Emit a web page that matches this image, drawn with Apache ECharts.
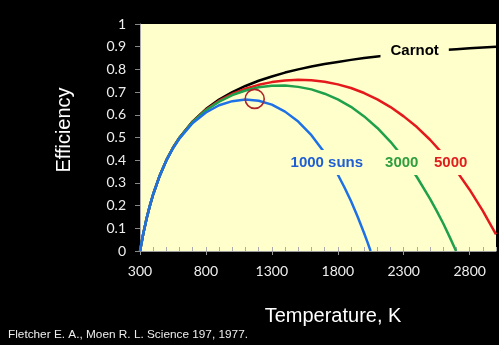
<!DOCTYPE html>
<html><head><meta charset="utf-8">
<script src="https://cdn.jsdelivr.net/npm/echarts@6/dist/echarts.min.js"></script>
<style>html,body{margin:0;padding:0;background:#000;}#c{width:499px;height:345px;}</style>
</head><body><div id="c"></div>
<script>
// Temperatures (K) and efficiencies
var carnotT = [300,325,350,375,400,450,500,550,600,700,800,900,1000,1100,1200,1300,1400,1500,1600,1700,1800,1900,2000,2100,2200,2300,2400,2500,2600,2700,2800,2900,3000];
var carnotE = [0,0.077,0.143,0.2,0.25,0.333,0.4,0.455,0.5,0.571,0.625,0.667,0.7,0.727,0.75,0.769,0.786,0.8,0.8125,0.824,0.833,0.842,0.85,0.857,0.864,0.87,0.875,0.88,0.885,0.889,0.893,0.897,0.9];

var sun1000T = [300,325,350,375,400,450,500,550,600,700,800,900,1000,1100,1200,1300,1400,1500,1600,1700,1800,1850,1900,1950,2000,2025,2049];
var sun1000E = [0,0.077,0.143,0.2,0.25,0.332,0.399,0.452,0.496,0.564,0.61,0.642,0.66,0.667,0.662,0.645,0.614,0.57,0.51,0.433,0.337,0.281,0.22,0.152,0.078,0.039,0];

var sun3000T = [300,325,350,375,400,450,500,550,600,700,800,900,1000,1100,1200,1300,1400,1500,1600,1700,1800,1900,2000,2100,2200,2300,2400,2500,2550,2600,2650,2697];
var sun3000E = [0,0.077,0.143,0.2,0.25,0.333,0.4,0.454,0.499,0.569,0.62,0.658,0.687,0.707,0.721,0.728,0.729,0.723,0.712,0.693,0.668,0.635,0.593,0.542,0.481,0.41,0.326,0.23,0.177,0.121,0.06,0];

var sun5000T = [300,325,350,375,400,450,500,550,600,700,800,900,1000,1100,1200,1300,1400,1500,1600,1700,1800,1900,2000,2100,2200,2300,2400,2500,2600,2700,2800,2900,3000];
var sun5000E = [0,0.077,0.143,0.2,0.25,0.333,0.4,0.455,0.499,0.57,0.622,0.662,0.692,0.715,0.732,0.744,0.751,0.754,0.752,0.746,0.734,0.718,0.696,0.668,0.634,0.593,0.546,0.49,0.426,0.353,0.27,0.177,0.073];

var xTickLabels = [300,800,1300,1800,2300,2800];
var yTickLabels = [0,0.1,0.2,0.3,0.4,0.5,0.6,0.7,0.8,0.9,1];

// in-plot labels: [text, T, efficiency]
var carnotLabel = ['Carnot', 2383, 0.88];
var label1000 = ['1000 suns', 1717, 0.39];
var label3000 = ['3000', 2285, 0.39];
var label5000 = ['5000', 2656, 0.39];
var circleAt = [1170, 0.67];

function zip(a, b){ return a.map(function(v,i){ return [v, b[i]]; }); }

var cream = '#FFFFCC';
function lbl(item, color, pad){
  return {
    symbol: 'rect', symbolSize: 1, itemStyle: {color: 'rgba(0,0,0,0)'},
    data: [{coord: [item[1], item[2]], value: item[0]}],
    label: {show: true, position: 'inside', formatter: '{c}', color: color,
      fontFamily: 'Liberation Sans, Arial', fontWeight: 'bold', fontSize: 15,
      backgroundColor: cream, padding: pad},
    z: 10, silent: true, animation: false
  };
}

var chart = echarts.init(document.getElementById('c'), null, {renderer: 'canvas'});
chart.setOption({
  backgroundColor: '#000',
  animation: false,
  grid: {left: 140, right: 3, top: 24, bottom: 94, show: true, backgroundColor: cream, borderWidth: 0},
  xAxis: [{
    type: 'value', min: 300, max: 3000, interval: 500,
    name: 'Temperature, K', nameLocation: 'middle', nameGap: 55,
    nameTextStyle: {color: '#fff', fontSize: 20, fontFamily: 'Liberation Sans, Arial', padding: [0,0,0,30]},
    axisLine: {show: true, lineStyle: {color: '#999', width: 1}},
    axisTick: {show: true, inside: false, length: 4, lineStyle: {color: '#999'}},
    axisLabel: {color: '#eee', fontSize: 14, fontFamily: 'Lato', margin: 13, showMaxLabel: false,
      formatter: function(v){ return xTickLabels.indexOf(v) >= 0 ? String(v) : ''; }},
    splitLine: {show: false}
  }, {
    type: 'value', min: 300, max: 3000, interval: 100, position: 'bottom',
    axisLine: {show: false},
    axisTick: {show: true, inside: true, length: 4, lineStyle: {color: '#aaa'}},
    axisLabel: {show: false}, splitLine: {show: false}
  }],
  yAxis: {
    type: 'value', min: 0, max: 1, interval: 0.1,
    name: 'Efficiency', nameLocation: 'middle', nameGap: 66,
    nameTextStyle: {color: '#fff', fontSize: 20, fontFamily: 'Liberation Sans, Arial', padding: [0,0,0,15]},
    axisLine: {show: true, lineStyle: {color: '#aaa', width: 1}},
    axisTick: {show: true, inside: false, length: 5, lineStyle: {color: '#888'}},
    axisLabel: {color: '#eee', fontSize: 14, fontFamily: 'Lato', margin: 14,
      formatter: function(v){ var r = Math.round(v*10)/10; return yTickLabels.indexOf(r) >= 0 ? String(r) : ''; }},
    splitLine: {show: false}
  },
  series: [
    {type: 'line', name: 'Carnot', data: zip(carnotT, carnotE), showSymbol: false, smooth: false,
      lineStyle: {color: '#000', width: 2.5}, itemStyle: {color: '#000'}, z: 2,
      markPoint: lbl(carnotLabel, '#000', [2, 10])},
    {type: 'line', name: '5000', data: zip(sun5000T, sun5000E), showSymbol: false, smooth: false,
      lineStyle: {color: '#E4191C', width: 2.5}, itemStyle: {color: '#E4191C'}, z: 3,
      markPoint: lbl(label5000, '#E01E1E', [5, 4])},
    {type: 'line', name: '3000', data: zip(sun3000T, sun3000E), showSymbol: false, smooth: false,
      lineStyle: {color: '#1FA04A', width: 2.5}, itemStyle: {color: '#1FA04A'}, z: 4,
      markPoint: lbl(label3000, '#2E9E3E', [5, 4])},
    {type: 'line', name: '1000 suns', data: zip(sun1000T, sun1000E), showSymbol: false, smooth: false,
      lineStyle: {color: '#1E70E6', width: 2.5}, itemStyle: {color: '#1E70E6'}, z: 5,
      markPoint: {
        silent: true, animation: false, z: 10,
        data: [
          {coord: [label1000[1], label1000[2]], value: label1000[0], symbol: 'rect', symbolSize: 1,
            itemStyle: {color: 'rgba(0,0,0,0)'},
            label: {show: true, position: 'inside', formatter: '{c}', color: '#1F5FD6',
              fontFamily: 'Liberation Sans, Arial', fontWeight: 'bold', fontSize: 15,
              backgroundColor: cream, padding: [5, 4]}},
          {coord: circleAt, value: '', symbol: 'circle', symbolSize: 19,
            itemStyle: {color: 'rgba(0,0,0,0)', borderColor: '#B0232A', borderWidth: 1.6},
            label: {show: false}}
        ]
      }}
  ],
  graphic: [{
    type: 'text', left: 8, top: 329,
    style: {text: 'Fletcher E. A., Moen R. L. Science 197, 1977.', fill: '#eee', fontSize: 11.8, fontFamily: 'Liberation Sans, Arial'}
  }]
});
</script></body></html>
